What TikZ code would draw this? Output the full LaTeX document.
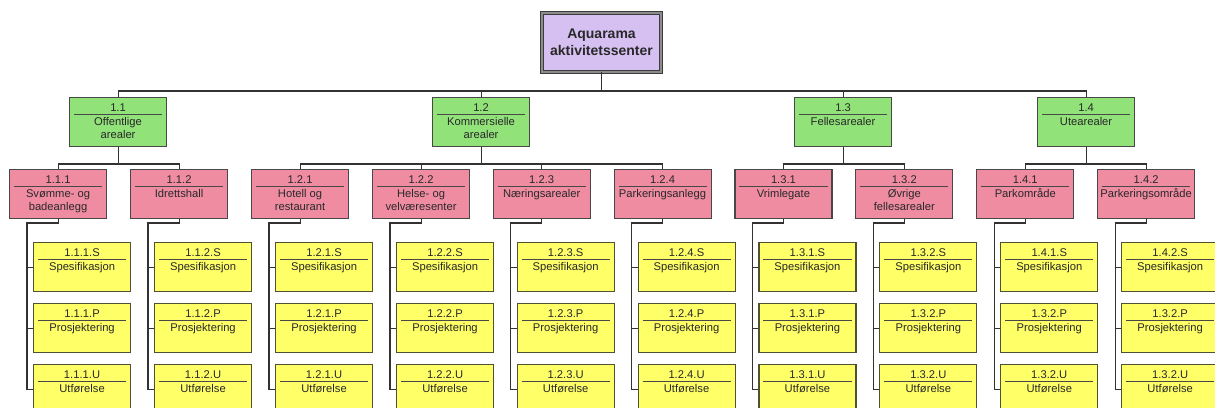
\documentclass[tikz,border=0pt]{standalone}
\usepackage{fontspec}
\setmainfont{Liberation Sans}
\definecolor{wbsgreen}{RGB}{146,226,122}
\definecolor{wbspink}{RGB}{240,140,162}
\definecolor{wbsyellow}{RGB}{255,255,104}
\definecolor{wbspurple}{RGB}{214,192,242}
\definecolor{boxline}{RGB}{72,72,72}
\definecolor{linecol}{RGB}{50,50,50}
\definecolor{txt}{RGB}{40,40,40}

% one WBS box: name, style, top-left x, top-left y, number, description
\newcommand\wbsnode[6]{%
  \node[#2] (#1) at (#3,#4) {};
  \node[lbl, anchor=base] (#1n) at ([yshift=-14pt]#1.north) {#5};
  \draw[sep] ([xshift=5pt,yshift=-17.5pt]#1.north west) -- ([xshift=-5pt,yshift=-17.5pt]#1.north east);
  \node[lbl, anchor=north] (#1l) at ([yshift=-18.5pt]#1.north) {\rule{0pt}{9.5pt}#6};
}

\begin{document}
\begin{tikzpicture}[x=1pt,y=-1pt,
  box/.style={draw=boxline, line width=1.1pt, minimum width=97pt, minimum height=49pt,
              inner sep=0pt, anchor=north west},
  greenbox/.style={box, fill=wbsgreen},
  pinkbox/.style={box, fill=wbspink},
  yellowbox/.style={box, fill=wbsyellow, draw={rgb,255:red,80;green,80;blue,50}},
  lbl/.style={font=\fontsize{11.2}{13}\selectfont, text=txt, inner sep=0pt, align=center},
  sep/.style={draw=boxline, line width=0.9pt},
  conn/.style={draw=linecol, line width=1.1pt}]

\useasboundingbox[fill=white] (0,0) rectangle (1215,407);

% root
\node[draw={rgb,255:red,60;green,60;blue,60}, double={rgb,255:red,140;green,140;blue,140},
      line width=0.9pt, double distance=1.4pt, fill=wbspurple,
      minimum width=119pt, minimum height=59pt, inner sep=0pt, align=center,
      font=\bfseries\fontsize{14}{17.5}\selectfont, text=txt] (title) at (601.5,42.5)
      {Aquarama\\aktivitetssenter};

% level 1
\wbsnode{g1}{greenbox}{69}{97}{1.1}{Offentlige\\arealer}
\wbsnode{g2}{greenbox}{432}{97}{1.2}{Kommersielle\\arealer}
\wbsnode{g3}{greenbox}{794}{97}{1.3}{Fellesarealer}
\wbsnode{g4}{greenbox}{1037}{97}{1.4}{Utearealer}

% level 2
\wbsnode{p0}{pinkbox}{9}{169}{1.1.1}{Svømme- og\\badeanlegg}
\wbsnode{p1}{pinkbox}{130}{169}{1.1.2}{Idrettshall}
\wbsnode{p2}{pinkbox}{251}{169}{1.2.1}{Hotell og\\restaurant}
\wbsnode{p3}{pinkbox}{372}{169}{1.2.2}{Helse- og\\velværesenter}
\wbsnode{p4}{pinkbox}{492.6}{169}{1.2.3}{Næringsarealer}
\wbsnode{p5}{pinkbox}{613.5}{169}{1.2.4}{Parkeringsanlegg}
\wbsnode{p6}{pinkbox}{734.4}{169}{1.3.1}{Vrimlegate}
\wbsnode{p7}{pinkbox}{855.3}{169}{1.3.2}{Øvrige\\fellesarealer}
\wbsnode{p8}{pinkbox}{976.2}{169}{1.4.1}{Parkområde}
\wbsnode{p9}{pinkbox}{1097.1}{169}{1.4.2}{Parkeringsområde}

% level 3 work packages with their side spines
\foreach \i/\xl/\ns/\np/\nu in {0/9/1.1.1/1.1.1/1.1.1, 1/130/1.1.2/1.1.2/1.1.2,
    2/251/1.2.1/1.2.1/1.2.1, 3/372/1.2.2/1.2.2/1.2.2, 4/492.6/1.2.3/1.2.3/1.2.3,
    5/613.5/1.2.4/1.2.4/1.2.4, 6/734.4/1.3.1/1.3.1/1.3.1, 7/855.3/1.3.2/1.3.2/1.3.2,
    8/976.2/1.4.1/1.3.2/1.3.2, 9/1097.1/1.4.2/1.3.2/1.3.2}{
  \wbsnode{y\i-s}{yellowbox}{\xl+24}{242}{\ns.S}{Spesifikasjon}
  \wbsnode{y\i-p}{yellowbox}{\xl+24}{303}{\np.P}{Prosjektering}
  \wbsnode{y\i-u}{yellowbox}{\xl+24}{364}{\nu.U}{Utførelse}
  \coordinate (sp\i) at (\xl+18,223);
  \draw[conn] (p\i.south) |- (sp\i) -- (sp\i |- y\i-u.west) -- (y\i-u.west);
  \draw[conn] (sp\i |- y\i-s.west) -- (y\i-s.west);
  \draw[conn] (sp\i |- y\i-p.west) -- (y\i-p.west);
}

% root to level 1
\coordinate (bus0) at (601.5,91);
\draw[conn] (title.south) -- (bus0);
\draw[conn] (g1.north) -- (g1.north |- bus0) -- (g4.north |- bus0) -- (g4.north);
\draw[conn] (g2.north) -- (g2.north |- bus0);
\draw[conn] (g3.north) -- (g3.north |- bus0);

% level 1 to level 2
\coordinate (bus1) at (0,164);
\draw[conn] (g1.south) -- (g1.south |- bus1);
\draw[conn] (p0.north) |- (p1.north |- bus1) -- (p1.north);
\draw[conn] (g2.south) -- (g2.south |- bus1);
\draw[conn] (p2.north) |- (p5.north |- bus1) -- (p5.north);
\draw[conn] (p3.north) -- (p3.north |- bus1);
\draw[conn] (p4.north) -- (p4.north |- bus1);
\draw[conn] (g3.south) -- (g3.south |- bus1);
\draw[conn] (p6.north) |- (p7.north |- bus1) -- (p7.north);
\draw[conn] (g4.south) -- (g4.south |- bus1);
\draw[conn] (p8.north) |- (p9.north |- bus1) -- (p9.north);
\end{tikzpicture}
\end{document}
